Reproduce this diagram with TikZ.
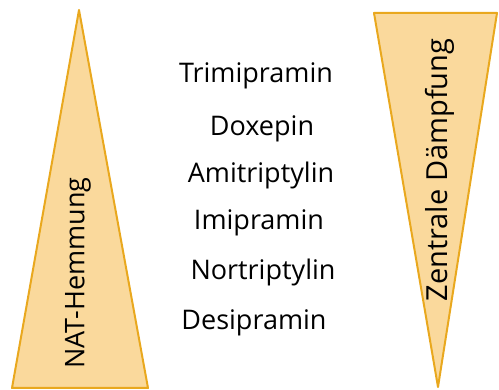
\documentclass[tikz,border=0pt]{standalone}
\usepackage{fontspec}
\setmainfont{Open Sans}
\usetikzlibrary{positioning}
\definecolor{wedgefill}{HTML}{FAD99C}
\definecolor{wedgeline}{HTML}{E9A81E}
\tikzset{
  wedge/.style={fill=wedgefill,draw=wedgeline,line width=2pt,line join=round},
  drug/.style={font=\fontsize{27}{30}\selectfont,inner sep=0pt,anchor=base},
  axislabel/.style={font=\fontsize{27}{30}\selectfont,rotate=90,inner sep=0pt}
}
\begin{document}
\begin{tikzpicture}[x=1pt,y=-1pt]
\useasboundingbox (0,0) rectangle (499,390);
% wedges
\coordinate (natTop) at (79,10);
\coordinate (natL) at (12,388);
\coordinate (natR) at (148,388);
\coordinate (zdL) at (374,13);
\coordinate (zdR) at (497,13);
\coordinate (zdTip) at (438,387);
\draw[wedge] (natTop) -- (natR) -- (natL) -- cycle;
\draw[wedge] (zdL) -- (zdR) -- (zdTip) -- cycle;
\node[axislabel] (nat) at (78,273) {NAT-Hemmung};
\node[axislabel,font=\fontsize{29}{32}\selectfont] (zd) at (440,170) {Zentrale Dämpfung};
% drugs
\node[drug] (tri) at (256,83) {Trimipramin};
\node[drug] (dox) at (262,136) {Doxepin};
\node[drug] (ami) at (261,183) {Amitriptylin};
\node[drug] (imi) at (259,230) {Imipramin};
\node[drug] (nor) at (263,280) {Nortriptylin};
\node[drug] (des) at (254,330) {Desipramin};
\end{tikzpicture}
\end{document}
